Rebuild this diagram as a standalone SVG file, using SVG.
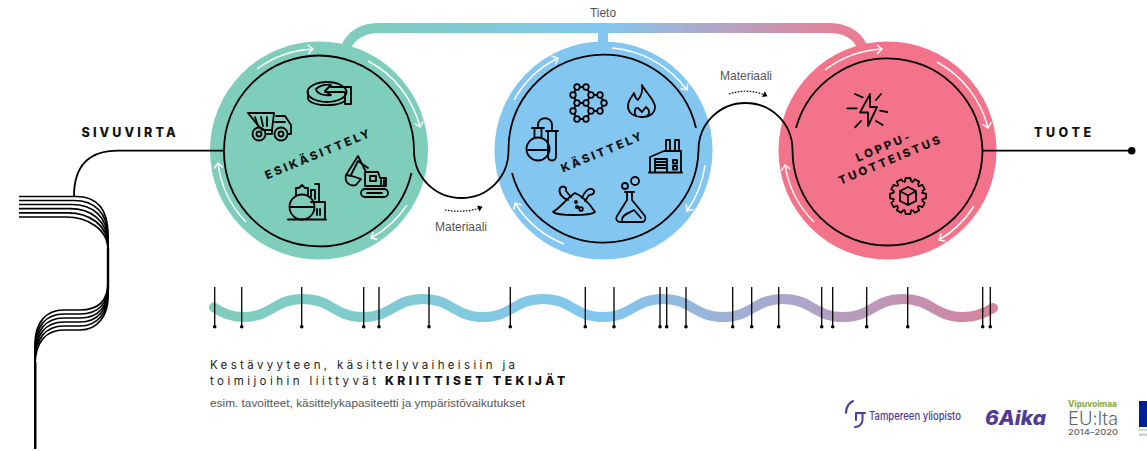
<svg xmlns="http://www.w3.org/2000/svg" width="1147" height="451" viewBox="0 0 1147 451">
<style>
text{font-family:Inter,"Liberation Sans",sans-serif}
.bl{fill:none;stroke:#000;stroke-width:1.8}
.src{fill:none;stroke:#000;stroke-width:1.7}
.wa{fill:none;stroke:#fff;stroke-width:1.5;marker-end:url(#wh)}
.ic{fill:none;stroke:#000;stroke-width:1.8;stroke-linejoin:round;stroke-linecap:round}
.tk{stroke:#000;stroke-width:1.3}
.lab{font-weight:800;font-size:11.500px;letter-spacing:2.700px;text-anchor:middle;fill:#111}
.hd{font-weight:800;font-size:12.500px;fill:#111}
.sm{font-family:"Liberation Sans",Arial,sans-serif;font-size:12px;fill:#555}
.k{font-size:11.500px;fill:#222}
.pu{fill:#4d3b96}
</style>
<defs>
<linearGradient id="gb" gradientUnits="userSpaceOnUse" x1="342" y1="0" x2="866" y2="0"><stop offset="0" stop-color="#7fcdbb"/><stop offset=".5" stop-color="#83c7f0"/><stop offset="1" stop-color="#ee7a90"/></linearGradient>
<linearGradient id="gw" gradientUnits="userSpaceOnUse" x1="213" y1="0" x2="995" y2="0"><stop offset="0" stop-color="#7fcdbb"/><stop offset=".5" stop-color="#83c7f0"/><stop offset="1" stop-color="#d5829f"/></linearGradient>
<marker id="wh" markerUnits="userSpaceOnUse" markerWidth="12" markerHeight="12" refX="7" refY="6" orient="auto"><path d="M2 1.500L7 6L2 10.500" fill="none" stroke="#fff" stroke-width="1.400"/></marker>
<marker id="da" markerUnits="userSpaceOnUse" markerWidth="8" markerHeight="8" refX="5" refY="4" orient="auto"><path d="M1 .8L5.500 4L1 7.200Z" fill="#000"/></marker>
<path id="tooth" d="M-3 -14.500L-2.400 -18H2.400L3 -14.500" fill="none" stroke="#000" stroke-width="1.800" stroke-linejoin="round"/>
</defs>
<rect width="1147" height="451" fill="#fff"/>

<g id="esikasittely">
<circle cx="319" cy="150.500" r="109" fill="#7fcdbb"/>
<path class="wa" d="M257 69A103 103 0 0 1 313 49"/>
<path class="wa" d="M368 61A103 103 0 0 1 420 127"/>
<path class="wa" d="M407 205A103 103 0 0 1 371 238"/>
<path class="wa" d="M246 222A103 103 0 0 1 218 163"/>
<g class="ic">
<path d="M248 113H274L272 130H262Z"/><path d="M255 117L258 126M261 117L263 126M267 117L267 126"/>
<path d="M276 116H285L291 125V134H288M272 130V134H267M275 122H285"/>
<circle cx="259" cy="134" r="6.500"/><circle cx="259" cy="134" r="2.500"/><circle cx="281" cy="134" r="6.500"/><circle cx="281" cy="134" r="2.500"/>
</g>
<g class="ic">
<ellipse cx="327" cy="92" rx="19.500" ry="10"/><path d="M308 92V98C308 103 320 106 330 105C337 105 342 103 345 101"/>
<path d="M316 89C320 85 327 84 331 85L325 91L331 95C324 96 317 94 316 89Z"/>
<path d="M331 87H351V104H345V92H325"/>
</g>
<g class="ic">
<rect x="361" y="189" width="27" height="8" rx="4"/><path d="M367 193H382"/>
<path d="M365 186V172H378L380 178H386V186ZM370 176H376V181H370ZM381 180V186M384 180V186"/>
<path d="M366 172L358 156L346 175M368 168L358 161L351 175"/>
<path d="M346 175C344 182 350 187 356 185L361 179L352 176Z"/>
</g>
<g class="ic">
<path d="M288 219.500H326"/><circle cx="302" cy="207" r="12.500"/><path d="M290 207H314"/>
<path d="M296 195V188H299L302 185L305 188H308V195"/>
<path d="M311 197V190H315V199M315 184H319V202H325V218M311 202H325M317 209V215M320 209V215"/>
</g>
<text class="lab" transform="translate(320 157.500) rotate(-22.500)">ESIKÄSITTELY</text>
</g>

<g id="kasittely">
<circle cx="603.500" cy="150.500" r="109" fill="#83c7f0"/>
<path class="wa" d="M514 100A103 103 0 0 1 558 58"/>
<path class="wa" d="M612 48A103 103 0 0 1 687 90"/>
<path class="wa" d="M705 165A103 103 0 0 1 687 211"/>
<path class="wa" d="M564 244A103 103 0 0 1 515 203"/>
<g class="ic">
<circle cx="538" cy="149" r="11.500"/><path d="M532 128H544M534.500 128V138M541.500 128V138M528 150H548"/>
<path d="M546 131H558M548 131V156C548 162 556 162 556 156V131"/>
<path d="M538 128V125C538 116 552 116 552 125V131"/>
</g>
<g class="ic">
<path d="M577 87H586L591 95L586 103H577L573 95ZM591 95H600L604 103L600 111H591L586 103M573 111L577 103M586 103L591 111L586 119H577L573 111"/>
<g fill="#83c7f0"><circle cx="577" cy="87" r="2.800"/><circle cx="586" cy="87" r="2.800"/><circle cx="573" cy="95" r="2.800"/><circle cx="591" cy="95" r="2.800"/><circle cx="600" cy="95" r="2.800"/><circle cx="577" cy="103" r="2.800"/><circle cx="586" cy="103" r="2.800"/><circle cx="604" cy="103" r="2.800"/><circle cx="573" cy="111" r="2.800"/><circle cx="591" cy="111" r="2.800"/><circle cx="600" cy="111" r="2.800"/><circle cx="577" cy="119" r="2.800"/><circle cx="586" cy="119" r="2.800"/></g>
</g>
<g class="ic">
<path d="M642 85C646 93 655 100 655 107C655 113 650 117 642 117C634 117 628 113 628 106C628 100 632 97 634 93C635 97 636 99 638 100C641 96 643 91 642 85Z"/>
<path d="M636 116C633 111 636 107 638 108L642 112L646 107C650 110 650 114 647 116"/>
</g>
<g class="ic">
<path d="M649 172.500H682M650 172V157L664 151H681V172M666 151V140H670V151M675 151V140H679V151"/>
<path d="M655 172V159H667V172M655 162H667M655 165H667M655 168H667"/>
<rect x="673" y="160" width="4" height="3.500"/><rect x="673" y="166" width="4" height="3.500"/>
</g>
<g class="ic">
<path d="M553 212C560 208 566 199 575 193C585 197 591 206 595 212C590 216 558 216 553 212Z"/>
<path d="M568 200C562 198 558 193 560 188C563 185 567 187 566 191L571 197M582 198C584 193 587 188 592 189C596 191 594 195 589 195L585 201"/>
<circle cx="577" cy="207" r="1.200"/><circle cx="581" cy="209" r="1.800"/><circle cx="576" cy="202" r="1"/>
</g>
<g class="ic">
<path d="M625 192H634M627 192V200L617 216C615 219 617 222 620 222H642C645 222 646 219 645 216L632 200V192"/>
<path d="M622 220C622 214 630 213 634 210L641 218"/>
<circle cx="625" cy="186" r="3"/><circle cx="635" cy="181" r="4"/>
</g>
<text class="lab" transform="translate(604 155.500) rotate(-22.500)">KÄSITTELY</text>
</g>

<g id="lopputuotteistus">
<circle cx="887.500" cy="150.500" r="109" fill="#f3748a"/>
<path class="wa" d="M825 70A103 103 0 0 1 882 49"/>
<path class="wa" d="M937 62A103 103 0 0 1 988 128"/>
<path class="wa" d="M974 206A103 103 0 0 1 939 240"/>
<path class="wa" d="M814 222A103 103 0 0 1 785 165"/>
<g class="ic">
<path d="M870 94L860 112.500H868L868 126L877 107H870Z"/>
<path d="M855 94L862.700 97.300M847.300 108.300H856.700M855 127.300L861 121M876 100L881 94M880 110.700L887.300 112M876 121L882.700 125"/>
</g>
<g>
<circle cx="908" cy="196" r="14.500" fill="none" stroke="#000" stroke-width="1.800" stroke-dasharray="1.590 6" stroke-dashoffset="-3"/>
<use href="#tooth" transform="translate(908 196)"/><use href="#tooth" transform="translate(908 196) rotate(30)"/><use href="#tooth" transform="translate(908 196) rotate(60)"/><use href="#tooth" transform="translate(908 196) rotate(90)"/><use href="#tooth" transform="translate(908 196) rotate(120)"/><use href="#tooth" transform="translate(908 196) rotate(150)"/><use href="#tooth" transform="translate(908 196) rotate(180)"/><use href="#tooth" transform="translate(908 196) rotate(210)"/><use href="#tooth" transform="translate(908 196) rotate(240)"/><use href="#tooth" transform="translate(908 196) rotate(270)"/><use href="#tooth" transform="translate(908 196) rotate(300)"/><use href="#tooth" transform="translate(908 196) rotate(330)"/>
<path class="ic" d="M908 187L916 191V201L908 205L900 201V191ZM900 191L908 195.500L916 191M908 195.500V205"/>
</g>
<text class="lab" transform="translate(885.500 150.500) rotate(-22.500)">LOPPU-</text>
<text class="lab" transform="translate(892 163.500) rotate(-22.500)">TUOTTEISTUS</text>
</g>

<g id="connectors">
<path fill="none" stroke="url(#gb)" stroke-width="10" d="M346 47C352 34 364 28 380 28H828C846 28 856 34 862 46"/>
<path fill="none" stroke="#83c7f0" stroke-width="10" d="M603 28V45"/>
<path class="bl" d="M224 150.500A95 95 0 0 1 414 150.500C414 178 436 198 461.500 198C487 198 508.500 178 508.500 150.500A95 95 0 0 1 696 128"/>
<path class="bl" d="M411.500 173A95 95 0 0 1 224 150.500"/>
<path class="bl" d="M512 173A95 95 0 0 0 698.500 150.500C698.500 123 720 103 745.500 103C771 103 792.500 123 792.500 150.500A95 95 0 0 0 982.500 150.500A95 95 0 0 0 796 128"/>
<path class="bl" d="M74 196.500C74 165 90 150.700 118 150.700H224"/>
<path class="bl" d="M982.500 150.700H1131"/><circle cx="1131.700" cy="150.700" r="3.800"/>
<g class="src">
<path d="M19 196.500H76C96 196.500 108 208 108 235V282C108 300 100 310 80 310H64C46 310 35 322 35 345V449"/>
<path d="M19 200.500H74C94 200.500 108 212 108 238V285C108 303 99 314 80 314H64C46 314 35 326 35 349V449"/>
<path d="M19 204.500H72C92 204.500 108 216 108 241V288C108 306 99 318 80 318H64C46 318 35 330 35 353V449"/>
<path d="M19 208.700H70C90 208.700 108 220 108 244V291C108 309 98 322 80 322H64C46 322 35 334 35 357V449"/>
<path d="M19 212.800H68C88 212.800 108 224 108 247V294C108 312 98 326 80 326H64C46 326 35 338 35 361V449"/>
<path d="M19 217H66C86 217 108 228 108 250V297C108 315 98 330 80 330H64C46 330 35 342 35 365V449"/>
</g>
<path fill="none" stroke="#000" stroke-width="2.400" d="M35.300 362V449M108 248V290"/>
<path fill="none" stroke="#000" stroke-width="1.200" stroke-dasharray="1.600 1.400" marker-end="url(#da)" d="M445 210C456 212 470 212 482 207"/>
<path fill="none" stroke="#000" stroke-width="1.200" stroke-dasharray="1.600 1.400" marker-end="url(#da)" d="M729 94C740 90 755 90 767 96"/>
</g>

<g id="labels">
<text class="hd" x="81.500" y="137" textLength="94" lengthAdjust="spacing">SIVUVIRTA</text>
<text class="hd" x="1034" y="137" textLength="57" lengthAdjust="spacing">TUOTE</text>
<text class="sm" x="603" y="17" text-anchor="middle">Tieto</text>
<text class="sm" x="461" y="231" text-anchor="middle">Materiaali</text>
<text class="sm" x="746" y="80" text-anchor="middle">Materiaali</text>
</g>

<g id="tekijat">
<path fill="none" stroke="url(#gw)" stroke-width="10" stroke-linecap="round" d="M214 307.500C222 313 232 317 243 317C272 317 274 299 303 299C332 299 334 317 363 317C392 317 394 299 423 299C452 299 454 317 483 317C512 317 514 299 543 299C572 299 574 317 603 317C632 317 634 299 663 299C692 299 694 317 723 317C752 317 754 299 783 299C812 299 814 317 843 317C872 317 874 299 903 299C932 299 934 317 963 317C975 317 985 313 993 308"/>
<path class="tk" d="M214.700 287V326.500M241.700 287V326.500M301.700 287V326.500M363.700 287V326.500M379 287V326.500M429 287V326.500M510.300 287V326.500M585.300 287V326.500M614 287V326.500M660 287V326.500M666.700 287V326.500M686 287V326.500M732.700 287V326.500M751.700 287V326.500M778.700 287V326.500M821.700 287V326.500M832.700 287V326.500M866.700 287V326.500M907.700 287V326.500M982.700 287V326.500M990.300 287V326.500"/>
<g><circle cx="214.700" cy="326.700" r="1.800"/><circle cx="241.700" cy="326.700" r="1.800"/><circle cx="301.700" cy="326.700" r="1.800"/><circle cx="363.700" cy="326.700" r="1.800"/><circle cx="379" cy="326.700" r="1.800"/><circle cx="429" cy="326.700" r="1.800"/><circle cx="510.300" cy="326.700" r="1.800"/><circle cx="585.300" cy="326.700" r="1.800"/><circle cx="614" cy="326.700" r="1.800"/><circle cx="660" cy="326.700" r="1.800"/><circle cx="666.700" cy="326.700" r="1.800"/><circle cx="686" cy="326.700" r="1.800"/><circle cx="732.700" cy="326.700" r="1.800"/><circle cx="751.700" cy="326.700" r="1.800"/><circle cx="778.700" cy="326.700" r="1.800"/><circle cx="821.700" cy="326.700" r="1.800"/><circle cx="832.700" cy="326.700" r="1.800"/><circle cx="866.700" cy="326.700" r="1.800"/><circle cx="907.700" cy="326.700" r="1.800"/><circle cx="982.700" cy="326.700" r="1.800"/><circle cx="990.300" cy="326.700" r="1.800"/></g>
<text class="k" x="210" y="369" textLength="305" lengthAdjust="spacing">Kestävyyteen, käsittelyvaiheisiin ja</text>
<text class="k" x="210" y="385" textLength="166" lengthAdjust="spacing">toimijoihin liittyvät</text>
<text class="k" x="385" y="385" textLength="180" lengthAdjust="spacing" style="font-weight:800;fill:#111;font-size:12px">KRIITTISET TEKIJÄT</text>
<text class="sm" x="210" y="407" textLength="315" lengthAdjust="spacing" style="font-size:11.800px">esim. tavoitteet, käsittelykapasiteetti ja ympäristövaikutukset</text>
</g>

<g id="logos">
<path fill="none" stroke="#4d3b96" stroke-width="2" stroke-linecap="round" d="M846 413C846 406 849 403 853 401M856 413H865M862.500 413V420C862.500 424 859 427 855 427M856 413V420"/>
<text class="pu" x="869" y="420" textLength="92" lengthAdjust="spacingAndGlyphs" style="font-size:11.500px;font-weight:500">Tampereen yliopisto</text>
<text class="pu" x="985" y="425" textLength="61" lengthAdjust="spacingAndGlyphs" style="font-size:20px;font-weight:800;font-style:italic">6Aika</text>
<text x="1068" y="406.500" textLength="49" lengthAdjust="spacingAndGlyphs" style="font-size:8.500px;font-weight:800;fill:#8fb04f">Vipuvoimaa</text>
<text x="1068" y="425" textLength="50" lengthAdjust="spacingAndGlyphs" style="font-size:18px;font-weight:300;fill:#666">EU:lta</text>
<text x="1068" y="435" textLength="50" lengthAdjust="spacingAndGlyphs" style="font-size:8px;font-weight:500;fill:#666">2014–2020</text>
<rect x="1139" y="401" width="8" height="26" fill="#00209a"/>
<text x="1139" y="431" style="font-size:3.500px;fill:#777">Euro</text>
<text x="1139" y="436" style="font-size:3.500px;fill:#777">kehit</text>
</g>
</svg>
